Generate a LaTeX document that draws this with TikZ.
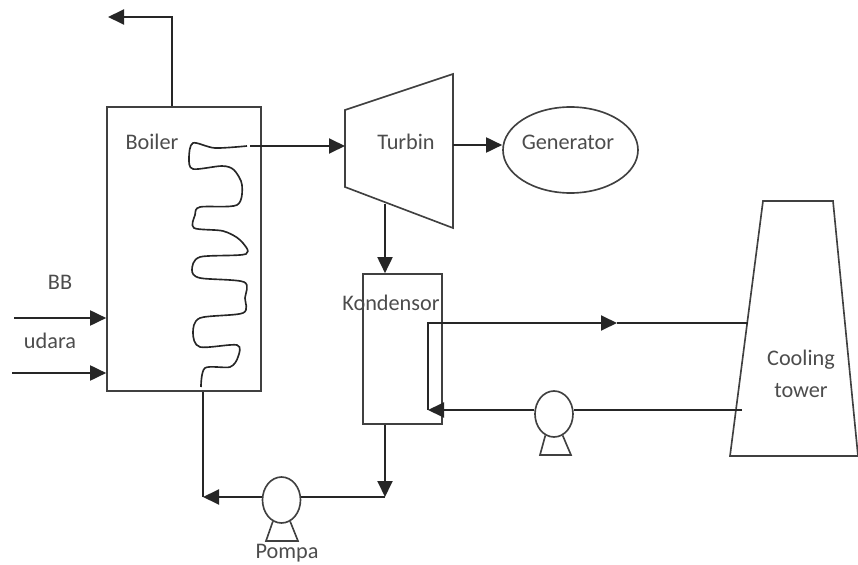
\documentclass[tikz,border=0pt]{standalone}
\usepackage{fontspec}
\setmainfont{Carlito}
\usepackage{tikz}
\usetikzlibrary{arrows.meta,calc,positioning,shapes.geometric}
\tikzset{
  unit/.style={draw=black!75, line width=1.4pt, inner sep=0pt},
  pipe/.style={draw=black!85, line width=1.6pt},
  flow/.style={pipe, -{Triangle[length=16*0.3mm, width=15*0.3mm]}},
  tag/.style={text=black!70, font=\fontsize{19}{27}\selectfont, inner sep=0pt, align=center},
}

\begin{document}
\begin{tikzpicture}[x=0.03cm,y=-0.03cm]
\useasboundingbox (0,0) rectangle (858,565);
% boiler and condenser
\node[unit, minimum width=4.62cm, minimum height=8.52cm] (boiler) at (184,249) {};
\node[unit, minimum width=2.37cm, minimum height=4.5cm] (kondensor) at (402.5,349) {};
\node[unit, ellipse, minimum width=4.05cm, minimum height=2.58cm] (generator) at (570.5,150) {};
\node[unit, ellipse, minimum width=1.14cm, minimum height=1.38cm] (pompa) at (281.5,500) {};
\node[unit, ellipse, minimum width=1.14cm, minimum height=1.38cm] (pompatower) at (554,414) {};
% turbine and tower outlines
\draw[unit] (345,110) coordinate (turbinNW) -- (453,74) coordinate (turbinNE)
    -- (453,228) coordinate (turbinSE) -- (345,187) coordinate (turbinSW) -- cycle;
\draw[unit] (763,201) -- (833,201) -- (858,456) -- (730,456) -- cycle;
% pump feet
\draw[unit] (pompa.-112) -- (266,541) -- (298,541) -- (pompa.-68);
\draw[unit] (pompatower.-112) -- (540,455) -- (571,455) -- (pompatower.-68);
% coil
\draw[pipe, line width=1.4pt] plot[smooth, tension=0.5] coordinates
    {(247,146) (215,148) (193,143) (189,158) (193,169) (222,166) (234,170) (242,185) (237,205)
     (200,207) (195,215) (194,228) (223,231) (240,240) (246,254) (200,257) (192,270) (200,278) (244,282)
     (245,298) (243,313) (200,318) (193,333) (200,347) (237,345) (238,357) (230,367) (205,368) (201,387)};
% free ends
\coordinate (flue) at (108,17);
\coordinate (flueturn) at (172,17);
\coordinate (coilout) at (250,146);
\coordinate (bbin) at (14,318);
\coordinate (udarain) at (12,373);
\coordinate (feedturn) at (203,497);
\coordinate (condturn) at (385,497);
\coordinate (loopup) at (428,323);
\coordinate (loopdown) at (428,410);
\coordinate (loopmid) at (617,323);
\coordinate (towerout) at (748,323);
\coordinate (towerin) at (742,410);
\coordinate (turbinout) at (385,204);
\coordinate (genin) at (453,145);
% connectors
\draw[flow] (boiler.north -| flueturn) -- (flueturn) -- (flue);
\draw[flow] (bbin) -- (bbin -| boiler.west);
\draw[flow] (udarain) -- (udarain -| boiler.west);
\draw[flow] (coilout) -- (coilout -| turbinNW);
\draw[flow] (genin) -- (genin -| generator.west);
\draw[flow] (turbinout) -- (turbinout |- kondensor.north);
\draw[flow] (turbinout |- kondensor.south) -- (condturn);
\draw[pipe] (condturn) -- (condturn -| pompa.east);
\draw[flow] (feedturn -| pompa.west) -- (feedturn);
\draw[pipe] (feedturn) -- (feedturn |- boiler.south);
\draw[pipe] (towerout) -- (loopmid);
\draw[flow] (loopdown) -- (loopup) -- (loopmid);
\draw[pipe] (towerin) -- (towerin -| pompatower.east);
\draw[flow] (towerin -| pompatower.west) -- (loopdown);
% labels
\node[tag] (boilertag) at (152,142) {Boiler};
\node[tag] (turbintag) at (406,142) {Turbin};
\node[tag] (generatortag) at (568,142) {Generator};
\node[tag] (bbtag) at (60,282) {BB};
\node[tag] (udaratag) at (50,341) {udara};
\node[tag] (kondensortag) at (391,303) {Kondensor};
\node[tag] (towertag) at (801,374) {Cooling\\tower};
\node[tag] (pompatag) at (287,553) {Pompa};
\end{tikzpicture}
\end{document}
